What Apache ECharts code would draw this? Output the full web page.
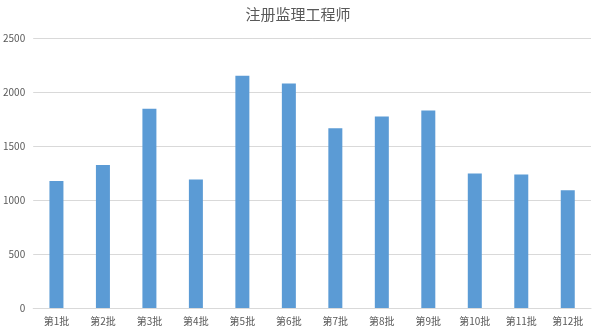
<!DOCTYPE html>
<html lang="zh">
<head>
    <meta charset="UTF-8">
    <title>注册监理工程师</title>
    <script type="text/javascript" src="https://cdn.jsdelivr.net/npm/echarts@6/dist/echarts.min.js"></script>
    <style type="text/css">
        html, body { margin: 0; padding: 0; background: #fff; }
        #main { width: 596px; height: 330px; }
    </style>
</head>
<body>
    <div id="main"></div>
    <script type="text/javascript">
        var batches = ['第1批', '第2批', '第3批', '第4批', '第5批', '第6批',
                       '第7批', '第8批', '第9批', '第10批', '第11批', '第12批'];
        var counts = [1175, 1325, 1845, 1190, 2150, 2078, 1665, 1772, 1828, 1245, 1237, 1090];
        var yTicks = [0, 500, 1000, 1500, 2000, 2500];

        var myChart = echarts.init(document.getElementById('main'));
        var option = {
            animation: false,
            title: {
                text: '注册监理工程师',
                left: 'center',
                top: 2,
                textStyle: {
                    fontFamily: 'Noto Sans CJK SC',
                    fontSize: 15,
                    fontWeight: 'normal',
                    color: '#595959'
                }
            },
            grid: { left: 31, right: 5, top: 38, bottom: 22 },
            xAxis: {
                type: 'category',
                data: batches,
                axisLine: { lineStyle: { color: '#d9d9d9' } },
                axisTick: { show: false },
                axisLabel: {
                    interval: 0,
                    margin: 8,
                    fontSize: 10,
                    color: '#595959',
                    fontFamily: 'Noto Sans CJK SC'
                }
            },
            yAxis: {
                type: 'value',
                min: yTicks[0],
                max: yTicks[yTicks.length - 1],
                interval: 500,
                axisLine: { show: false },
                axisTick: { show: false },
                splitLine: { lineStyle: { color: '#d9d9d9' } },
                axisLabel: {
                    margin: 8,
                    fontSize: 10,
                    color: '#595959',
                    fontFamily: 'Noto Sans CJK SC',
                    formatter: function (v) { return String(v); }
                }
            },
            series: [{
                type: 'bar',
                data: counts,
                barWidth: 14,
                itemStyle: { color: '#5b9bd5' }
            }]
        };
        myChart.setOption(option);
    </script>
</body>
</html>
